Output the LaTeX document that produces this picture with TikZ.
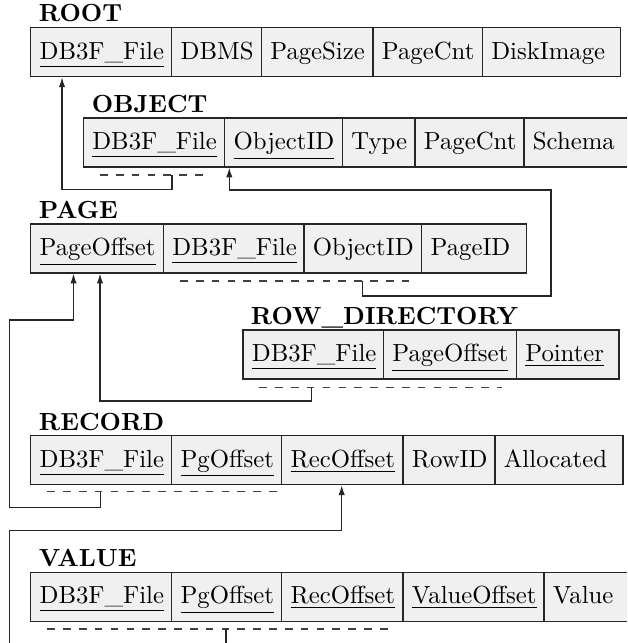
\documentclass[tikz,border=0pt]{standalone}
\usetikzlibrary{arrows.meta}
\newcommand\cellnode[5]{%
  \pgfmathsetmacro\cellW{(#3-#2)*0.404}%
  \pgfmathsetmacro\textW{(#3-#2-18)*0.404}%
  \node[cell, minimum width=\cellW pt, text width=\textW pt] (#1) at (#2,#4) {\mbox{#5}};}
\begin{document}
\begin{tikzpicture}[x=0.404pt, y=-0.404pt,
  cell/.style={draw=black!85, line width=0.5pt, fill=black!6, anchor=north west, inner xsep=3.64pt,
    inner ysep=0pt, minimum height=19.8pt, text height=8pt, text depth=2.3pt, align=left},
  lbl/.style={anchor=base west, inner sep=0pt, font=\bfseries},
  keyline/.style={draw=black!75, line width=0.5pt, dash pattern=on 3.1pt off 3.3pt},
  conn/.style={draw=black!85, line width=0.5pt, -{Latex[length=4pt,width=2.6pt]}}]
\useasboundingbox (0,0) rectangle (627,643);
\clip (0,0) rectangle (627,643);

% ROOT
\node[lbl] (rootlbl) at (38.5,21.7) {ROOT};
\cellnode{root1}{30}{171}{27}{\underline{DB3F\_File}}
\cellnode{root2}{171}{260.7}{27}{DBMS}
\cellnode{root3}{260.7}{372.3}{27}{PageSize}
\cellnode{root4}{372.3}{481.7}{27}{PageCnt}
\cellnode{root5}{481.7}{620}{27}{DiskImage}

% OBJECT
\node[lbl] (objlbl) at (91.5,112.5) {OBJECT};
\cellnode{obj1}{82.7}{224}{117.3}{\underline{DB3F\_File}}
\cellnode{obj2}{224}{341.7}{117.3}{\underline{ObjectID}}
\cellnode{obj3}{341.7}{414.3}{117.3}{Type}
\cellnode{obj4}{414.3}{523.3}{117.3}{PageCnt}
\cellnode{obj5}{523.3}{629}{117.3}{Schema}

% PAGE
\node[lbl] (pagelbl) at (38.5,218.3) {PAGE};
\cellnode{page1}{30}{162.7}{223.3}{\underline{PageOffset}}
\cellnode{page2}{162.7}{303.3}{223.3}{\underline{DB3F\_File}}
\cellnode{page3}{303.3}{421}{223.3}{ObjectID}
\cellnode{page4}{421}{525.7}{223.3}{PageID}

% ROW_DIRECTORY
\node[lbl] (rowlbl) at (250.5,324) {ROW\_DIRECTORY};
\cellnode{row1}{242.3}{382.7}{329.3}{\underline{DB3F\_File}}
\cellnode{row2}{382.7}{515.7}{329.3}{\underline{PageOffset}}
\cellnode{row3}{515.7}{618.3}{329.3}{\underline{Pointer}}

% RECORD
\node[lbl] (reclbl) at (38.5,430) {RECORD};
\cellnode{rec1}{30}{171}{435}{\underline{DB3F\_File}}
\cellnode{rec2}{171}{281}{435}{\underline{PgOffset}}
\cellnode{rec3}{281}{402.3}{435}{\underline{RecOffset}}
\cellnode{rec4}{402.3}{494.3}{435}{RowID}
\cellnode{rec5}{494.3}{622.3}{435}{Allocated}

% VALUE
\node[lbl] (vallbl) at (38.5,566.3) {VALUE};
\cellnode{val1}{30}{171}{571.7}{\underline{DB3F\_File}}
\cellnode{val2}{171}{281}{571.7}{\underline{PgOffset}}
\cellnode{val3}{281}{402.3}{571.7}{\underline{RecOffset}}
\cellnode{val4}{402.3}{543.3}{571.7}{\underline{ValueOffset}}
\cellnode{val5}{543.3}{629}{571.7}{Value}

% foreign key dashed lines
\coordinate (objk1) at (100,175);   \coordinate (objk2) at (204,175);
\coordinate (pagek1) at (180,281);  \coordinate (pagek2) at (411.7,281);
\coordinate (rowk1) at (259.3,387.3); \coordinate (rowk2) at (501.7,387.3);
\coordinate (reck1) at (47.3,491.7); \coordinate (reck2) at (278.3,491.7);
\coordinate (valk1) at (47.3,629);   \coordinate (valk2) at (391.7,629);
\draw[keyline] (objk1) -- (objk2);
\draw[keyline] (pagek1) -- (pagek2);
\draw[keyline] (rowk1) -- (rowk2);
\draw[keyline] (reck1) -- (reck2);
\draw[keyline] (valk1) -- (valk2);

% connectors
\coordinate (objfk) at (172,175);
\coordinate (pagefk) at (362.3,281);
\coordinate (rowfk) at (311.7,387.3);
\coordinate (recfk) at (100.3,491.7);
\coordinate (valfk) at (226,629);

\draw[conn] (objfk) -- (172,189.5) -- (62,189.5) -- (62,189.5 |- root1.south);
\draw[conn] (pagefk) -- (362.3,296) -- (551,296) -- (551,190) -- (229.3,190) -- (229.3,190 |- obj2.south);
\draw[conn] (rowfk) -- (311.7,401) -- (100,401) -- (100,401 |- page1.south);
\draw[conn] (recfk) -- (100.3,507.7) -- (9.5,507.7) -- (9.5,320) -- (73.5,320) -- (73.5,320 |- page1.south);
\draw[conn] (valfk) -- (226,660) -- (9.5,660) -- (9.5,530.5) -- (341.7,530.5) -- (341.7,530.5 |- rec3.south);
\end{tikzpicture}
\end{document}
